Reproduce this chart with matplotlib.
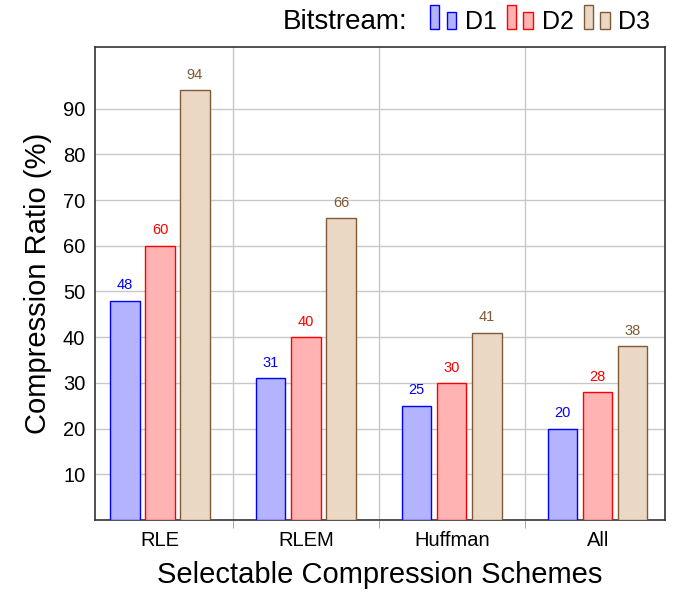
import matplotlib
matplotlib.use("Agg")
from matplotlib import pyplot as plt
from matplotlib.patches import Rectangle
from matplotlib.legend_handler import HandlerBase
from matplotlib.offsetbox import HPacker
import numpy as np

plt.rcParams['font.family'] = ['Liberation Sans', 'DejaVu Sans']

schemes = ["RLE", "RLEM", "Huffman", "All"]
series = ["D1", "D2", "D3"]
d1 = [48, 31, 25, 20]
d2 = [60, 40, 30, 28]
d3 = [94, 66, 41, 38]
y_ticks = [10, 20, 30, 40, 50, 60, 70, 80, 90]

fills = ["#b3b3ff", "#ffb3b3", "#ead8c4"]
edges = ["#0000ff", "#ff0000", "#7f5a36"]
label_colors = ["#0000ff", "#ff0000", "#7f5a36"]


class TwoBarHandler(HandlerBase):
    # pgfplots style legend image: two small bars, bottoms aligned
    def create_artists(self, legend, orig_handle, xdescent, ydescent,
                       width, height, fontsize, trans):
        fc = orig_handle.get_facecolor()
        ec = orig_handle.get_edgecolor()
        w = width * 0.33
        y0 = -ydescent
        r1 = Rectangle((-xdescent, y0), w, height * 1.37,
                       facecolor=fc, edgecolor=ec, lw=1, transform=trans)
        r2 = Rectangle((-xdescent + width * 0.6, y0), w, height * 0.97,
                       facecolor=fc, edgecolor=ec, lw=1, transform=trans)
        return [r1, r2]


fig = plt.figure(figsize=(6.78, 5.95), dpi=100)
ax = fig.add_axes([95 / 678, 1 - 520 / 595, 570 / 678, 473 / 595])

x = np.arange(len(schemes))
offset = 0.24
width = 0.2
handles = []
for i, vals in enumerate([d1, d2, d3]):
    pos = x + (i - 1) * offset
    bars = ax.bar(pos, vals, width=width, color=fills[i], edgecolor=edges[i],
                  linewidth=1, zorder=3, label=series[i])
    handles.append(bars[0])
    for p, v in zip(pos, vals):
        ax.annotate(str(v), (p, v), xytext=(0, 6), textcoords="offset points",
                    ha="center", va="bottom", fontsize=10.5, color=label_colors[i])

ax.set_xlim(-0.445, 3.46)
ax.set_ylim(0, 103.5)
ax.set_yticks(y_ticks)
ax.tick_params(axis="y", length=0, labelsize=14.5, pad=7)
ax.set_xticks(x)
ax.set_xticklabels(schemes)
ax.tick_params(axis="x", which="major", length=0, labelsize=14.5, pad=8)
ax.set_xticks(x[:-1] + 0.5, minor=True)
ax.tick_params(axis="x", which="minor", length=6, direction="out", color="#999999")
ax.grid(axis="y", which="major", color="#c8c8c8", lw=1, zorder=0)
ax.grid(axis="x", which="minor", color="#c8c8c8", lw=1, zorder=0)
for s in ax.spines.values():
    s.set_color("#333333")
    s.set_linewidth(1.2)

ax.set_ylabel("Compression Ratio (%)", fontsize=21, labelpad=8)
ax.set_xlabel("Selectable Compression Schemes", fontsize=21, labelpad=8)

fig.legend(handles=handles, labels=series, handler_map={h: TwoBarHandler() for h in handles},
           loc="upper right", bbox_to_anchor=(668 / 678, 1.015), ncol=3, frameon=False,
           fontsize=18, title="Bitstream:", title_fontsize=20,
           handlelength=1.12, handletextpad=0.28, columnspacing=0.4, borderpad=0.2)
leg = fig.legends[0]
# put the title on the same row as the entries
leg._legend_box._children = [HPacker(pad=0, sep=16, align="center",
                                     children=[leg._legend_title_box, leg._legend_handle_box])]

fig.savefig("out.png", dpi=100)
